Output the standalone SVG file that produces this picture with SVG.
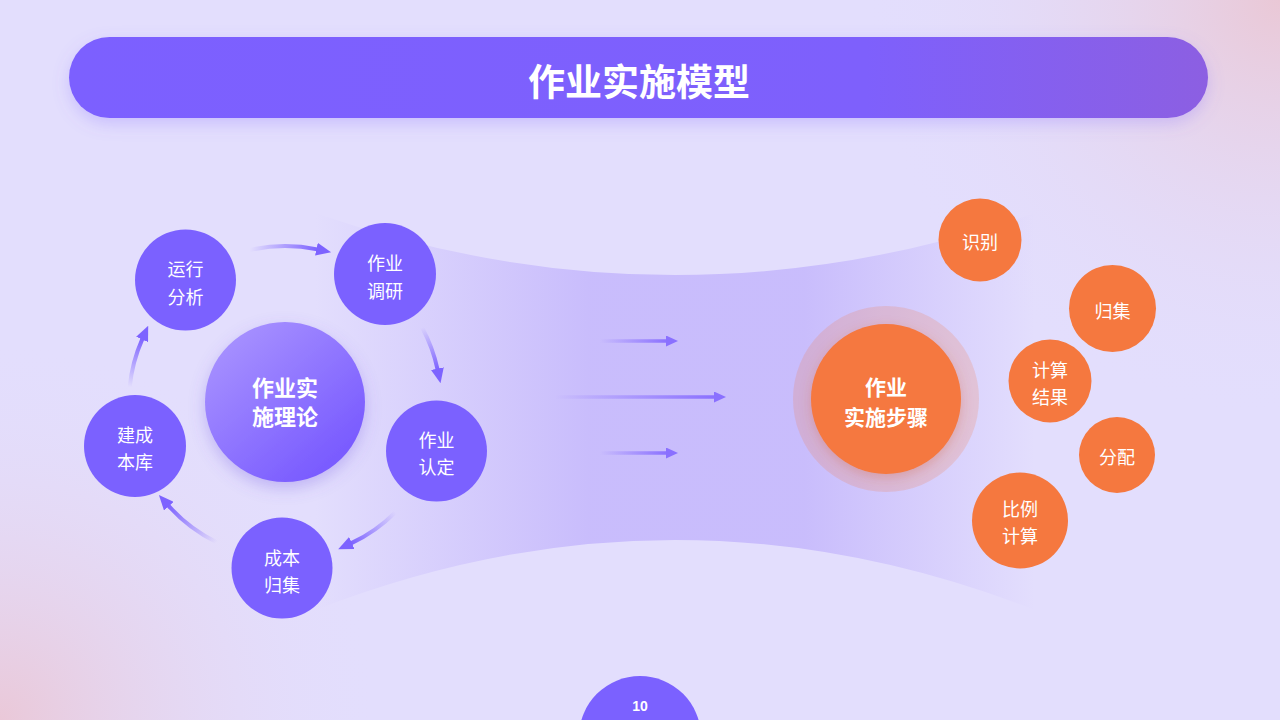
<svg xmlns="http://www.w3.org/2000/svg" width="1280" height="720" viewBox="0 0 1280 720">
<defs>
<style>
.t{font-family:"Noto Sans CJK SC","Noto Sans",sans-serif;fill:#ffffff;text-anchor:middle;dominant-baseline:central}
.sat{font-size:18px}
.pur{fill:#7b61ff}
.org{fill:#f5783f}
.arc{fill:none;stroke-width:4;stroke-linecap:round}
.hz{fill:none;stroke-width:3.5}
</style>
<radialGradient id="bgTR" cx="1280" cy="0" r="420" gradientUnits="userSpaceOnUse">
<stop offset="0" stop-color="#eac8d6"/><stop offset="1" stop-color="#e3defd" stop-opacity="0"/>
</radialGradient>
<radialGradient id="bgBL" cx="0" cy="720" r="380" gradientUnits="userSpaceOnUse">
<stop offset="0" stop-color="#eac8d8"/><stop offset="1" stop-color="#e3defd" stop-opacity="0"/>
</radialGradient>
<linearGradient id="titleG" x1="0" y1="0" x2="1" y2="0">
<stop offset="0" stop-color="#7c60ff"/><stop offset="0.7" stop-color="#7e60fc"/><stop offset="1" stop-color="#8c5fe2"/>
</linearGradient>
<linearGradient id="funnelG" x1="315" y1="0" x2="1035" y2="0" gradientUnits="userSpaceOnUse">
<stop offset="0" stop-color="#c6b9fc" stop-opacity="0"/>
<stop offset="0.38" stop-color="#c6b9fc" stop-opacity="0.9"/>
<stop offset="0.68" stop-color="#c6b9fc" stop-opacity="0.9"/>
<stop offset="1" stop-color="#c6b9fc" stop-opacity="0"/>
</linearGradient>
<linearGradient id="centerG" x1="0.15" y1="0.1" x2="0.8" y2="0.85">
<stop offset="0" stop-color="#a690ff"/><stop offset="1" stop-color="#7a5cff"/>
</linearGradient>
<filter id="sh" x="-30%" y="-30%" width="160%" height="160%">
<feDropShadow dx="0" dy="6" stdDeviation="8" flood-color="#6a4fe0" flood-opacity="0.3"/>
</filter>
<filter id="shT" x="-10%" y="-40%" width="120%" height="180%">
<feDropShadow dx="0" dy="6" stdDeviation="8" flood-color="#7b61ff" flood-opacity="0.25"/>
</filter>
<filter id="shO" x="-30%" y="-30%" width="160%" height="160%">
<feDropShadow dx="0" dy="4" stdDeviation="6" flood-color="#d0603a" flood-opacity="0.3"/>
</filter>
<marker id="ah" viewBox="0 0 15 13" refX="1" refY="6.5" markerWidth="15" markerHeight="13" markerUnits="userSpaceOnUse" orient="auto">
<path d="M0,0 L15,6.5 L0,13 Z" fill="#7d63ff"/>
</marker>
<marker id="ah2" viewBox="0 0 12 11" refX="1" refY="5.5" markerWidth="12" markerHeight="11" markerUnits="userSpaceOnUse" orient="auto">
<path d="M0,0 L12,5.5 L0,11 Z" fill="#8a70ff"/>
</marker>
<linearGradient id="a1" x1="249.9" y1="250" x2="317.4" y2="249.4" gradientUnits="userSpaceOnUse"><stop offset="0" stop-color="#7d63ff" stop-opacity="0"/><stop offset="1" stop-color="#7d63ff"/></linearGradient>
<linearGradient id="a2" x1="422.1" y1="327.6" x2="437.6" y2="369.6" gradientUnits="userSpaceOnUse"><stop offset="0" stop-color="#7d63ff" stop-opacity="0"/><stop offset="1" stop-color="#7d63ff"/></linearGradient>
<linearGradient id="a3" x1="395.3" y1="512.3" x2="350.9" y2="543.4" gradientUnits="userSpaceOnUse"><stop offset="0" stop-color="#7d63ff" stop-opacity="0"/><stop offset="1" stop-color="#7d63ff"/></linearGradient>
<linearGradient id="a4" x1="216.6" y1="542.2" x2="168.2" y2="505.4" gradientUnits="userSpaceOnUse"><stop offset="0" stop-color="#7d63ff" stop-opacity="0"/><stop offset="1" stop-color="#7d63ff"/></linearGradient>
<linearGradient id="a5" x1="129.7" y1="387.1" x2="142.5" y2="338.6" gradientUnits="userSpaceOnUse"><stop offset="0" stop-color="#7d63ff" stop-opacity="0"/><stop offset="1" stop-color="#7d63ff"/></linearGradient>
<linearGradient id="h1" x1="600" y1="0" x2="668" y2="0" gradientUnits="userSpaceOnUse"><stop offset="0" stop-color="#8a70ff" stop-opacity="0"/><stop offset="1" stop-color="#8a70ff"/></linearGradient>
<linearGradient id="h2" x1="555" y1="0" x2="716" y2="0" gradientUnits="userSpaceOnUse"><stop offset="0" stop-color="#8a70ff" stop-opacity="0"/><stop offset="1" stop-color="#8a70ff"/></linearGradient>
</defs>

<g id="background">
<rect x="0" y="0" width="1280" height="720" fill="#e3defd"/>
<rect x="0" y="0" width="1280" height="720" fill="url(#bgTR)"/>
<rect x="0" y="0" width="1280" height="720" fill="url(#bgBL)"/>
<path d="M315,213 Q675,337 1035,213 L1035,610 Q675,470 315,610 Z" fill="url(#funnelG)"/>
</g>

<g id="title">
<rect x="69" y="37" width="1139" height="81" rx="40.5" fill="url(#titleG)" filter="url(#shT)"/>
<text class="t" x="639" y="80" font-size="37" font-weight="bold">作业实施模型</text>
</g>

<g id="connectors">
<path class="arc" d="M249.9,250 A156,156 0 0 1 317.4,249.4" stroke="url(#a1)" marker-end="url(#ah)"/>
<path class="arc" d="M422.1,327.6 A156,156 0 0 1 437.6,369.6" stroke="url(#a2)" marker-end="url(#ah)"/>
<path class="arc" d="M395.3,512.3 A156,156 0 0 1 350.9,543.4" stroke="url(#a3)" marker-end="url(#ah)"/>
<path class="arc" d="M216.6,542.2 A156,156 0 0 1 168.2,505.4" stroke="url(#a4)" marker-end="url(#ah)"/>
<path class="arc" d="M129.7,387.1 A156,156 0 0 1 142.5,338.6" stroke="url(#a5)" marker-end="url(#ah)"/>
<line class="hz" x1="600" y1="341" x2="667" y2="341" stroke="url(#h1)" marker-end="url(#ah2)"/>
<line class="hz" x1="555" y1="397" x2="715" y2="397" stroke="url(#h2)" marker-end="url(#ah2)"/>
<line class="hz" x1="600" y1="453" x2="667" y2="453" stroke="url(#h1)" marker-end="url(#ah2)"/>
</g>

<g id="node-center">
<circle cx="285" cy="402" r="80" fill="url(#centerG)" filter="url(#sh)"/>
<text class="t" x="285" y="386" font-size="22" font-weight="bold">作业实</text>
<text class="t" x="285" y="415" font-size="22" font-weight="bold">施理论</text>
</g>

<g id="node-yunxing">
<circle class="pur" cx="185.5" cy="280" r="50.5"/>
<text class="t sat" x="185.5" y="268">运行</text>
<text class="t sat" x="185.5" y="296">分析</text>
</g>
<g id="node-diaoyan">
<circle class="pur" cx="385" cy="274" r="51"/>
<text class="t sat" x="385" y="262">作业</text>
<text class="t sat" x="385" y="290">调研</text>
</g>
<g id="node-rending">
<circle class="pur" cx="436.5" cy="451" r="50.5"/>
<text class="t sat" x="436.5" y="439">作业</text>
<text class="t sat" x="436.5" y="466">认定</text>
</g>
<g id="node-chengben">
<circle class="pur" cx="282" cy="568" r="50.5"/>
<text class="t sat" x="282" y="557">成本</text>
<text class="t sat" x="282" y="584">归集</text>
</g>
<g id="node-jiancheng">
<circle class="pur" cx="135" cy="446" r="51"/>
<text class="t sat" x="135" y="434">建成</text>
<text class="t sat" x="135" y="461">本库</text>
</g>

<g id="node-steps">
<circle cx="886" cy="399" r="93" fill="#f5783f" opacity="0.2"/>
<circle class="org" cx="886" cy="399" r="75" filter="url(#shO)"/>
<text class="t" x="886" y="386" font-size="21" font-weight="bold">作业</text>
<text class="t" x="886" y="416" font-size="21" font-weight="bold">实施步骤</text>
</g>
<g id="node-shibie">
<circle class="org" cx="980" cy="240" r="41.5"/>
<text class="t sat" x="980" y="241">识别</text>
</g>
<g id="node-guiji">
<circle class="org" cx="1112.5" cy="308.5" r="43.5"/>
<text class="t sat" x="1112.5" y="310">归集</text>
</g>
<g id="node-jisuanjieguo">
<circle class="org" cx="1050" cy="381" r="41.5"/>
<text class="t sat" x="1050" y="369">计算</text>
<text class="t sat" x="1050" y="396">结果</text>
</g>
<g id="node-fenpei">
<circle class="org" cx="1117" cy="455" r="38"/>
<text class="t sat" x="1117" y="456">分配</text>
</g>
<g id="node-bili">
<circle class="org" cx="1020" cy="520.5" r="48"/>
<text class="t sat" x="1020" y="508">比例</text>
<text class="t sat" x="1020" y="535">计算</text>
</g>

<g id="page-number">
<circle class="pur" cx="640" cy="737" r="61"/>
<text class="t" x="640" y="706" font-size="14" font-weight="bold" style="font-family:'Liberation Sans',sans-serif">10</text>
</g>
</svg>
